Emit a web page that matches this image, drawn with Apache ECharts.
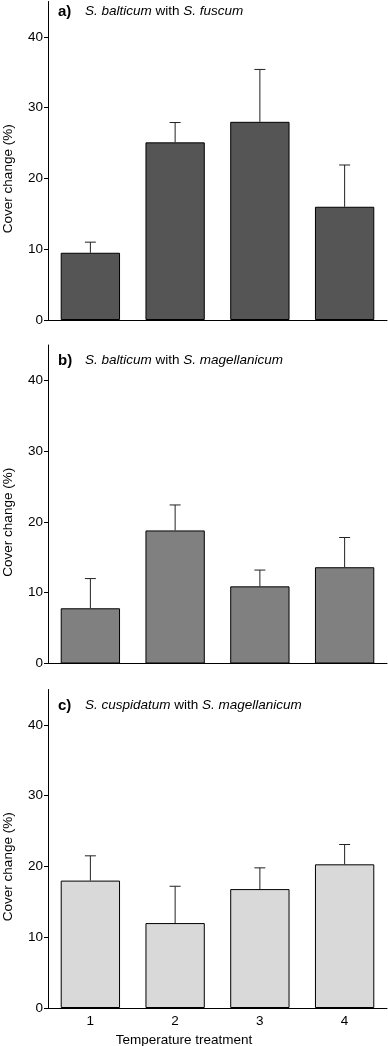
<!DOCTYPE html>
<html>
<head>
<meta charset="utf-8">
<script src="https://cdn.jsdelivr.net/npm/echarts@6/dist/echarts.min.js"></script>
<style>
html,body{margin:0;padding:0;background:#fff;}
#c{width:388px;height:1046px;}
</style>
</head>
<body>
<div id="c"></div>
<script>
const categories = ['1', '2', '3', '4'];
const yTicks = [0, 10, 20, 30, 40];

const meanA = [9.5, 25.1, 28.0, 16.0];
const errA = [1.5, 2.8, 7.4, 5.9];
const meanB = [7.8, 18.8, 10.9, 13.6];
const errB = [4.2, 3.6, 2.3, 4.2];
const meanC = [18.0, 12.0, 16.8, 20.3];
const errC = [3.5, 5.2, 3.0, 2.8];

const panelLabels = ['a)', 'b)', 'c)'];
const panelSpecies = [['S. balticum', 'S. fuscum'], ['S. balticum', 'S. magellanicum'], ['S. cuspidatum', 'S. magellanicum']];
const yName = 'Cover change (%)';
const xName = 'Temperature treatment';

const FONT = 'Liberation Sans, Arial, Helvetica, sans-serif';
const FS = 13.5;

const means = [meanA, meanB, meanC];
const errs = [errA, errB, errC];
const colors = ['#555555', '#808080', '#d9d9d9'];
const gridTops = [1.5, 345, 689.5];
const titleY = [4, 353, 698];

const chart = echarts.init(document.getElementById('c'), null, {renderer: 'canvas'});

const grids = [], xAxes = [], yAxes = [], series = [], titles = [];
for (let p = 0; p < 3; p++) {
  grids.push({left: 48, right: 1, top: gridTops[p], height: 318.5, containLabel: false, outerBoundsMode: 'none'});
  xAxes.push({
    type: 'category', gridIndex: p, data: categories,
    axisLine: {show: true, lineStyle: {color: '#000', width: 1}},
    axisTick: {show: false},
    axisLabel: {show: p === 2, color: '#000', fontFamily: FONT, fontSize: FS, margin: 6},
    name: p === 2 ? xName : '', nameLocation: 'middle', nameGap: 25,
    nameTextStyle: {color: '#000', fontFamily: FONT, fontSize: FS, padding: [0, 67, 0, 0]}
  });
  yAxes.push({
    type: 'value', gridIndex: p, min: 0, max: 45, interval: 10,
    splitLine: {show: false},
    axisLine: {show: true, lineStyle: {color: '#000', width: 1}},
    axisTick: {show: true, inside: false, length: 4, lineStyle: {color: '#000'}, customValues: yTicks},
    axisLabel: {color: '#000', fontFamily: FONT, fontSize: FS, margin: 5, customValues: yTicks},
    name: yName, nameLocation: 'middle', nameGap: 33, nameRotate: 90,
    nameTextStyle: {color: '#000', fontFamily: FONT, fontSize: FS, padding: [0, 36, 0, 0]}
  });
  series.push({
    type: 'bar', xAxisIndex: p, yAxisIndex: p, data: means[p], barWidth: '70%',
    itemStyle: {color: colors[p], borderColor: '#000', borderWidth: 1},
    z: 2
  });
  const m = means[p], e = errs[p];
  series.push({
    type: 'custom', xAxisIndex: p, yAxisIndex: p, z: 3,
    data: m.map((v, i) => [i, v, v + e[i]]),
    renderItem: function (params, api) {
      const base = api.coord([api.value(0), api.value(1)]);
      const top = api.coord([api.value(0), api.value(2)]);
      const hw = 5.5;
      const st = {stroke: '#222', lineWidth: 1};
      return {
        type: 'group',
        children: [
          {type: 'line', shape: {x1: base[0], y1: base[1], x2: top[0], y2: top[1]}, style: st},
          {type: 'line', shape: {x1: top[0] - hw, y1: top[1], x2: top[0] + hw, y2: top[1]}, style: st}
        ]
      };
    }
  });
  titles.push({
    left: 58, top: titleY[p],
    text: '{lab|' + panelLabels[p] + '}{i|' + panelSpecies[p][0] + '}{n| with }{i|' + panelSpecies[p][1] + '}',
    textStyle: {
      fontWeight: 'normal',
      rich: {
        lab: {fontFamily: FONT, fontSize: 15, fontWeight: 'bold', color: '#000', width: 27},
        i: {fontFamily: FONT, fontSize: FS, fontStyle: 'italic', fontWeight: 'normal', color: '#000'},
        n: {fontFamily: FONT, fontSize: FS, fontWeight: 'normal', color: '#000'}
      }
    },
    padding: 0
  });
}

chart.setOption({
  animation: false,
  backgroundColor: '#fff',
  title: titles,
  grid: grids,
  xAxis: xAxes,
  yAxis: yAxes,
  series: series
});
</script>
</body>
</html>
